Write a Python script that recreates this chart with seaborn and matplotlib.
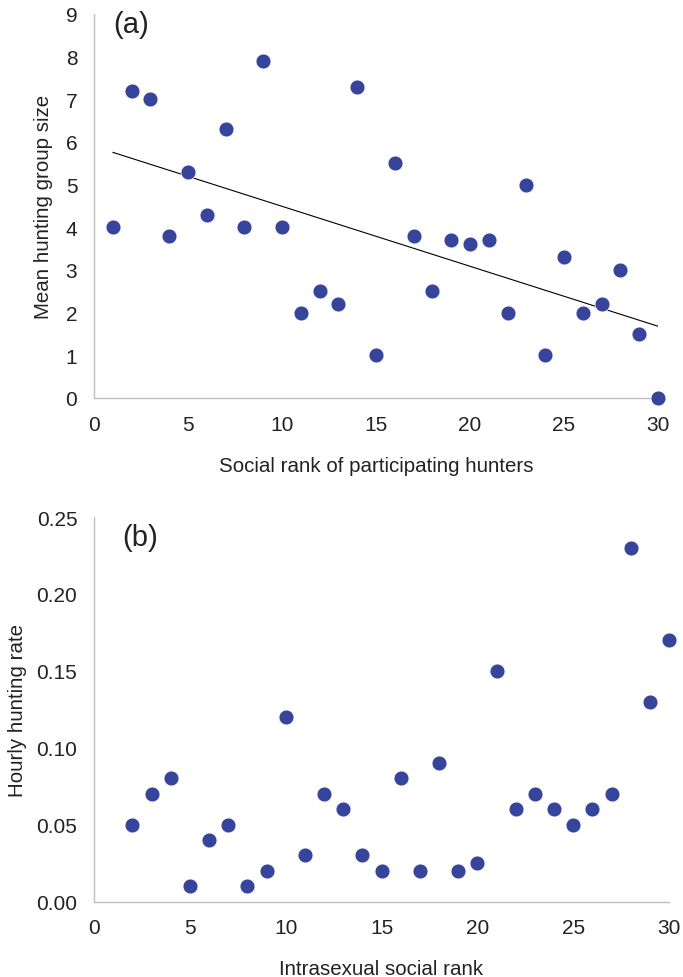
import numpy as np
import pandas as pd
import matplotlib
matplotlib.use("Agg")
import matplotlib.pyplot as plt
import seaborn as sns

# Panel (a)
rank_a = [1, 2, 3, 4, 5, 6, 7, 8, 9, 10, 11, 12, 13, 14, 15,
          16, 17, 18, 19, 20, 21, 22, 23, 24, 25, 26, 27, 28, 29, 30]
group_size = [4.0, 7.2, 7.0, 3.8, 5.3, 4.3, 6.3, 4.0, 7.9, 4.0, 2.0, 2.5, 2.2, 7.3, 1.0,
              5.5, 3.8, 2.5, 3.7, 3.6, 3.7, 2.0, 5.0, 1.0, 3.3, 2.0, 2.2, 3.0, 1.5, 0.0]

# Panel (b)
rank_b = [2, 3, 4, 5, 6, 7, 8, 9, 10, 11, 12, 13, 14, 15, 16,
          17, 18, 19, 20, 21, 22, 23, 24, 25, 26, 27, 28, 29, 30]
hourly_rate = [0.05, 0.07, 0.08, 0.01, 0.04, 0.05, 0.01, 0.02, 0.12, 0.03, 0.07, 0.06, 0.03, 0.02, 0.08,
               0.02, 0.09, 0.02, 0.025, 0.15, 0.06, 0.07, 0.06, 0.05, 0.06, 0.07, 0.23, 0.13, 0.17]

xticks = [0, 5, 10, 15, 20, 25, 30]
yticks_a = list(range(0, 10))
yticks_b = [0.00, 0.05, 0.10, 0.15, 0.20, 0.25]

sns.set_theme(style="white")
plt.rcParams['font.family'] = ['Liberation Sans', 'DejaVu Sans']

dot = "#36449c"
spine_c = "#bfbfbf"
fs_tick = 15
fs_lab = 14.8

fig = plt.figure(figsize=(6.83, 9.78), dpi=100)
ax1 = fig.add_axes([94/683, 1-399/978, (658-94)/683, (399-15)/978])
ax2 = fig.add_axes([94/683, 1-902.5/978, (669-94)/683, (902.5-518)/978])

df_a = pd.DataFrame({"rank": rank_a, "size": group_size})
df_b = pd.DataFrame({"rank": rank_b, "rate": hourly_rate})

sns.regplot(data=df_a, x="rank", y="size", ax=ax1, ci=None, truncate=True,
            scatter_kws=dict(s=115, color=dot, alpha=1, edgecolor="white", linewidths=0.5, zorder=3, clip_on=False),
            line_kws=dict(color="black", lw=0.8, zorder=2))
sns.scatterplot(data=df_b, x="rank", y="rate", ax=ax2, s=115, color=dot,
                edgecolor="white", linewidth=0.5, zorder=3, clip_on=False)

for ax, yt, lab, xl, lp in [(ax1, yticks_a, "Mean hunting group size", "Social rank of participating hunters", 9),
                            (ax2, yticks_b, "Hourly hunting rate", "Intrasexual social rank", 7)]:
    ax.set_xlim(0, 30)
    ax.set_xticks(xticks)
    ax.set_yticks(yt)
    for s in ["top", "right"]:
        ax.spines[s].set_visible(False)
    for s in ["left", "bottom"]:
        ax.spines[s].set_color(spine_c)
        ax.spines[s].set_linewidth(1.0)
    ax.tick_params(axis="both", length=0, pad=12, labelsize=fs_tick, colors="#222222")
    ax.set_ylabel(lab, fontsize=fs_lab, color="#222222", labelpad=lp)
    ax.set_xlabel(xl, fontsize=fs_lab, color="#222222", labelpad=16)

ax1.set_ylim(0, 9)
ax1.set_yticklabels([str(v) for v in yticks_a])
ax2.set_ylim(0, 0.25)
ax2.set_yticklabels([f"{v:.2f}" for v in yticks_b])

ax1.text(19/564, 1.01, "(a)", transform=ax1.transAxes, fontsize=21, va="top", ha="left", color="#222222")
ax2.text(28/575, 0.985, "(b)", transform=ax2.transAxes, fontsize=21, va="top", ha="left", color="#222222")

fig.savefig("out.png", dpi=100)
